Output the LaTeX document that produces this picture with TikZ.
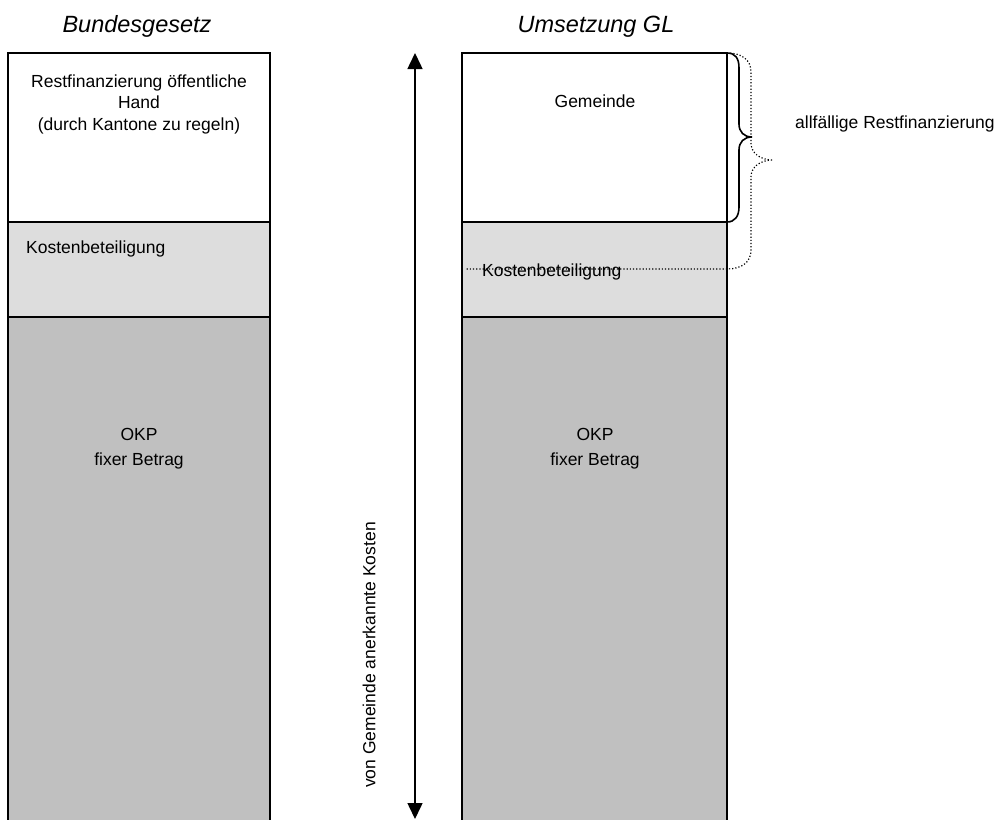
\documentclass[tikz,border=0pt]{standalone}
\usepackage{fontspec}
\setmainfont{Liberation Sans}
\usetikzlibrary{arrows.meta}
\definecolor{lightg}{RGB}{221,221,221}
\definecolor{darkg}{RGB}{192,192,192}
\begin{document}
\begin{tikzpicture}[x=1pt,y=-1pt,
  seg/.style={draw=black,line width=1.8pt,rectangle,anchor=north west,inner sep=0pt,outer sep=0pt},
  lbl/.style={font=\fontsize{17.5}{21.5}\selectfont,inner sep=0pt,anchor=base},
  lbll/.style={lbl,anchor=base west},
  ttl/.style={font=\fontsize{23.5}{28}\selectfont\itshape,inner sep=0pt,anchor=base}]
\useasboundingbox (0,0) rectangle (995,819);
% left column
\node[seg,fill=white,minimum width=262pt,minimum height=169pt] (l1) at (8,53) {};
\node[seg,fill=lightg,minimum width=262pt,minimum height=95pt] (l2) at (8,222) {};
\node[seg,fill=darkg,minimum width=262pt,minimum height=520pt] (l3) at (8,317) {};
% right column
\node[seg,fill=white,minimum width=265pt,minimum height=169pt] (r1) at (462,53) {};
\node[seg,fill=lightg,minimum width=265pt,minimum height=95pt] (r2) at (462,222) {};
\node[seg,fill=darkg,minimum width=265pt,minimum height=520pt] (r3) at (462,317) {};
% titles
\node[ttl] (t1) at (137,32) {Bundesgesetz};
\node[ttl] (t2) at (596,32) {Umsetzung GL};
% left texts
\node[lbl] (a1) at (139,87) {Restfinanzierung öffentliche};
\node[lbl] (a2) at (139,108.5) {Hand};
\node[lbl] (a3) at (139,130) {(durch Kantone zu regeln)};
\node[lbll] (a4) at (26,253) {Kostenbeteiligung};
\node[lbl] (a5) at (139,440) {OKP};
\node[lbl] (a6) at (139,465) {fixer Betrag};
% right texts
\node[lbl] (b1) at (595,107) {Gemeinde};
\node[lbll] (b2) at (482,276) {Kostenbeteiligung};
\node[lbl] (b3) at (595,440) {OKP};
\node[lbl] (b4) at (595,465) {fixer Betrag};
\node[lbll] (c1) at (795,128) {allfällige Restfinanzierung};
% vertical arrow
\coordinate (atop) at (415,53);
\coordinate (abot) at (415,819);
\draw[line width=1.5pt,{Triangle[width=15pt,length=16pt]}-{Triangle[width=15pt,length=16pt]}] (atop) -- (abot);
\node[lbl,anchor=center,rotate=90] (v1) at (369,655) {von Gemeinde anerkannte Kosten};
% braces
\coordinate (bt) at (r1.north east);
\coordinate (bb) at (r1.south east);
\draw[line width=1.6pt] (bt) .. controls (735,53) and (739,58) .. (739,68) -- (739,124)
  .. controls (739,132) and (744,137) .. (752,137)
  .. controls (744,137) and (739,142) .. (739,150) -- (739,207)
  .. controls (739,216) and (735,222) .. (bb);
\coordinate (dl) at (465,269);
\draw[line width=1.2pt,dotted] (bt) .. controls (742,53) and (751,60) .. (751,72) -- (751,143)
  .. controls (751,153) and (760,160) .. (773,160)
  .. controls (760,160) and (751,167) .. (751,177) -- (751,250)
  .. controls (751,262) and (742,269) .. (727,269) -- (dl);
\end{tikzpicture}
\end{document}
